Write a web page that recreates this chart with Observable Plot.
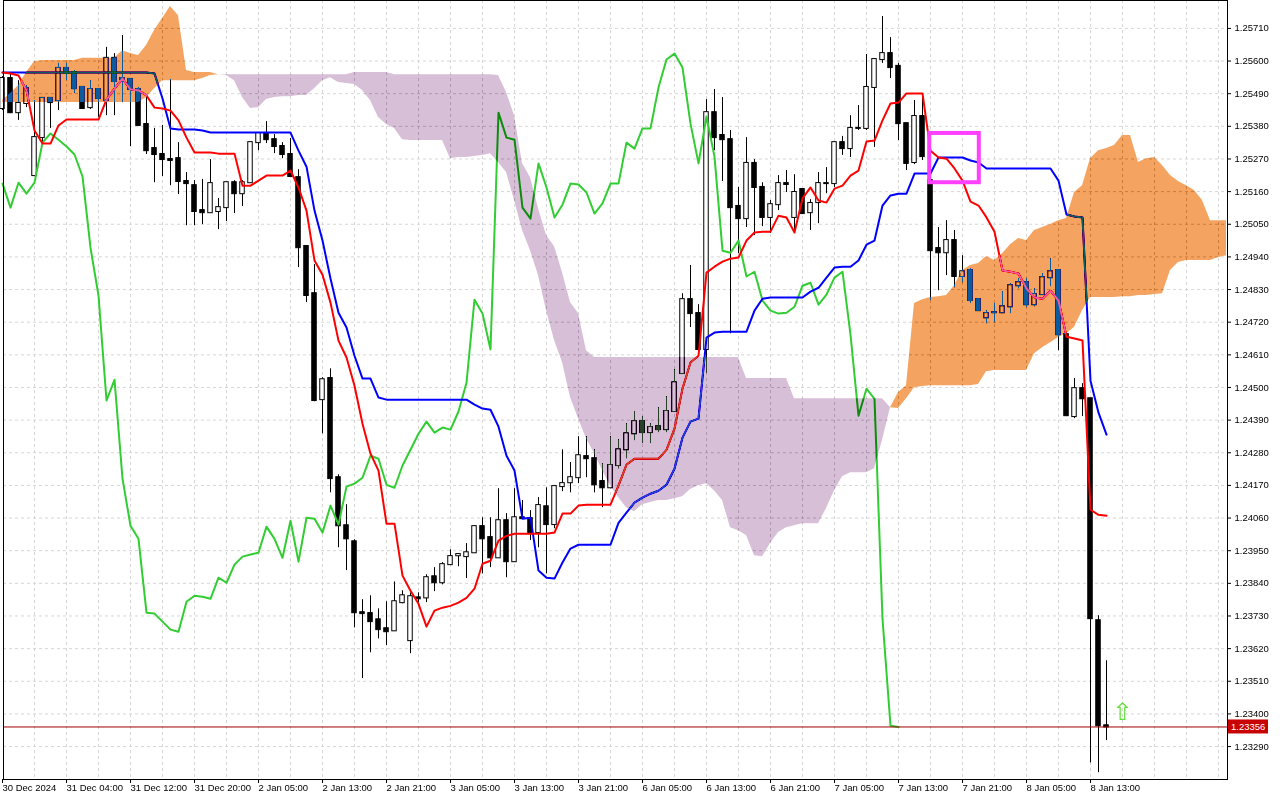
<!DOCTYPE html>
<html><head><meta charset="utf-8">
<script src="https://cdn.jsdelivr.net/npm/d3@7"></script>
<script src="https://cdn.jsdelivr.net/npm/@observablehq/plot@0.6"></script>
<style>
html,body{margin:0;padding:0;background:#fff;}
#chart{width:1280px;height:800px;}
</style></head><body><div id="chart"></div>
<script>
const timeLabels = ["30 Dec 2024","31 Dec 04:00","31 Dec 12:00","31 Dec 20:00","2 Jan 05:00","2 Jan 13:00","2 Jan 21:00","3 Jan 05:00","3 Jan 13:00","3 Jan 21:00","6 Jan 05:00","6 Jan 13:00","6 Jan 21:00","7 Jan 05:00","7 Jan 13:00","7 Jan 21:00","8 Jan 05:00","8 Jan 13:00"];
const yTicks = [1.23290,1.23400,1.23510,1.23620,1.23730,1.23840,1.23950,1.24060,1.24170,1.24280,1.24390,1.24500,1.24610,1.24720,1.24830,1.24940,1.25050,1.25160,1.25270,1.25380,1.25490,1.25600,1.25710];

const open = [1.25440,1.25541,1.25426,1.25457,1.25214,1.25342,1.25474,1.25467,1.25575,1.25561,
1.25511,1.25443,1.25504,1.25467,1.25609,1.25541,1.25538,1.25504,1.25386,1.25305,
1.25285,1.25268,1.25271,1.25194,1.25180,1.25096,1.25089,1.25093,1.25106,1.25190,
1.25153,1.25190,1.25325,1.25356,1.25335,1.25312,1.25285,1.25207,1.24975,1.24816,
1.24459,1.24530,1.24196,1.24034,1.23980,1.23741,1.23738,1.23717,1.23687,1.23680,
1.23775,1.23647,1.23791,1.23791,1.23862,1.23842,1.23903,1.23933,1.23930,1.23943,
1.24031,1.23994,1.23926,1.24051,1.23913,1.24061,1.24058,1.24011,1.24098,1.24038,
1.24166,1.24179,1.24196,1.24267,1.24260,1.24183,1.24162,1.24237,1.24290,1.24344,
1.24385,1.24348,1.24368,1.24358,1.24419,1.24547,1.24796,1.24749,1.24628,1.25426,
1.25349,1.25335,1.25110,1.25069,1.25255,1.25174,1.25073,1.25116,1.25187,1.25073,
1.25167,1.25089,1.25123,1.25187,1.25187,1.25325,1.25305,1.25373,1.25373,1.25511,
1.25605,1.25625,1.25582,1.25389,1.25258,1.25413,1.25197,1.24968,1.24954,1.24995,
1.24874,1.24894,1.24796,1.24735,1.24752,1.24752,1.24772,1.24843,1.24853,1.24779,
1.24813,1.24870,1.24894,1.24678,1.24402,1.24496,1.24462,1.23714,1.23360];
const high = [1.25548,1.25555,1.25534,1.25517,1.25467,1.25477,1.25477,1.25592,1.25592,1.25568,
1.25514,1.25534,1.25504,1.25646,1.25625,1.25686,1.25538,1.25511,1.25487,1.25373,
1.25383,1.25538,1.25325,1.25224,1.25197,1.25201,1.25268,1.25137,1.25190,1.25197,
1.25197,1.25325,1.25359,1.25396,1.25352,1.25325,1.25339,1.25234,1.24975,1.24914,
1.24533,1.24563,1.24206,1.24105,1.23987,1.23785,1.23798,1.23754,1.23778,1.23845,
1.23815,1.23808,1.23808,1.23869,1.23893,1.23910,1.23953,1.23937,1.23974,1.24034,
1.24061,1.24061,1.24159,1.24075,1.24159,1.24119,1.24085,1.24129,1.24162,1.24169,
1.24290,1.24247,1.24334,1.24334,1.24290,1.24243,1.24334,1.24324,1.24378,1.24419,
1.24402,1.24378,1.24432,1.24469,1.24560,1.24816,1.24911,1.24779,1.25470,1.25504,
1.25477,1.25366,1.25174,1.25342,1.25268,1.25190,1.25130,1.25214,1.25231,1.25217,
1.25170,1.25133,1.25224,1.25241,1.25325,1.25346,1.25416,1.25450,1.25622,1.25605,
1.25750,1.25679,1.25592,1.25389,1.25467,1.25474,1.25197,1.25039,1.25062,1.25029,
1.24944,1.24901,1.24799,1.24759,1.24783,1.24823,1.24850,1.24867,1.24867,1.24833,
1.24884,1.24934,1.24894,1.24678,1.24530,1.24513,1.24462,1.23731,1.23579];
const low = [1.25433,1.25423,1.25400,1.25443,1.25214,1.25322,1.25373,1.25433,1.25534,1.25491,
1.25440,1.25437,1.25410,1.25416,1.25416,1.25460,1.25312,1.25383,1.25285,1.25190,
1.25211,1.25180,1.25150,1.25045,1.25045,1.25049,1.25089,1.25032,1.25059,1.25086,
1.25110,1.25190,1.25298,1.25322,1.25288,1.25271,1.25207,1.24904,1.24786,1.24452,
1.24344,1.24145,1.23960,1.23883,1.23690,1.23519,1.23606,1.23653,1.23630,1.23680,
1.23771,1.23603,1.23775,1.23775,1.23812,1.23835,1.23903,1.23896,1.23856,1.23943,
1.23872,1.23893,1.23926,1.23859,1.23913,1.24058,1.23984,1.23960,1.23872,1.24024,
1.24149,1.24145,1.24176,1.24196,1.24145,1.24095,1.24159,1.24226,1.24260,1.24321,
1.24311,1.24311,1.24348,1.24348,1.24419,1.24547,1.24702,1.24628,1.24547,1.25298,
1.25194,1.24681,1.24951,1.25039,1.25012,1.25042,1.25019,1.25096,1.25157,1.25022,
1.25086,1.25029,1.25052,1.25153,1.25174,1.25282,1.25275,1.25366,1.25366,1.25309,
1.25592,1.25541,1.25332,1.25231,1.25251,1.25265,1.24793,1.24826,1.24877,1.24836,
1.24853,1.24783,1.24756,1.24715,1.24718,1.24749,1.24749,1.24833,1.24769,1.24772,
1.24810,1.24840,1.24624,1.24402,1.24395,1.24402,1.23235,1.23202,1.23310];
const close = [1.25541,1.25426,1.25457,1.25507,1.25342,1.25474,1.25460,1.25575,1.25558,1.25507,
1.25440,1.25504,1.25474,1.25609,1.25531,1.25538,1.25504,1.25383,1.25298,1.25285,
1.25268,1.25265,1.25194,1.25187,1.25093,1.25089,1.25187,1.25106,1.25190,1.25153,
1.25190,1.25325,1.25356,1.25335,1.25312,1.25285,1.25211,1.24971,1.24810,1.24456,
1.24526,1.24193,1.24034,1.23990,1.23741,1.23738,1.23711,1.23684,1.23677,1.23778,
1.23798,1.23795,1.23788,1.23859,1.23842,1.23903,1.23930,1.23937,1.23943,1.24031,
1.23990,1.23926,1.24051,1.23913,1.24061,1.24058,1.24011,1.24102,1.24038,1.24166,
1.24176,1.24196,1.24270,1.24260,1.24172,1.24162,1.24237,1.24290,1.24344,1.24385,
1.24348,1.24365,1.24358,1.24419,1.24516,1.24796,1.24749,1.24628,1.25426,1.25342,
1.25335,1.25106,1.25069,1.25255,1.25174,1.25073,1.25116,1.25187,1.25184,1.25157,
1.25086,1.25120,1.25187,1.25187,1.25325,1.25305,1.25373,1.25373,1.25511,1.25605,
1.25625,1.25578,1.25389,1.25255,1.25413,1.25278,1.24961,1.24954,1.24995,1.24874,
1.24890,1.24793,1.24759,1.24749,1.24752,1.24772,1.24843,1.24853,1.24779,1.24813,
1.24870,1.24890,1.24678,1.24405,1.24496,1.24462,1.23721,1.23360,1.23356];

const tenkan = [1.25561,1.25558,1.25551,1.25501,1.25366,1.25322,1.25322,1.25383,1.25403,1.25403,
1.25403,1.25403,1.25403,1.25470,1.25507,1.25541,1.25504,1.25501,1.25484,1.25443,
1.25440,1.25433,1.25400,1.25342,1.25292,1.25292,1.25292,1.25288,1.25288,1.25288,
1.25180,1.25180,1.25197,1.25214,1.25214,1.25214,1.25231,1.25174,1.25096,1.24928,
1.24880,1.24786,1.24658,1.24601,1.24506,1.24378,1.24277,1.24220,1.24041,1.24041,
1.23866,1.23815,1.23771,1.23694,1.23748,1.23758,1.23764,1.23775,1.23791,1.23822,
1.23906,1.23916,1.23984,1.24000,1.24007,1.24007,1.24007,1.24007,1.24007,1.24011,
1.24075,1.24075,1.24102,1.24105,1.24105,1.24105,1.24105,1.24169,1.24240,1.24260,
1.24260,1.24260,1.24260,1.24290,1.24361,1.24496,1.24584,1.24607,1.24887,1.24907,
1.24924,1.24934,1.24938,1.24995,1.25022,1.25025,1.25025,1.25079,1.25073,1.25022,
1.25137,1.25174,1.25130,1.25123,1.25170,1.25180,1.25214,1.25231,1.25329,1.25332,
1.25400,1.25457,1.25460,1.25491,1.25491,1.25491,1.25298,1.25275,1.25271,1.25238,
1.25197,1.25126,1.25113,1.25073,1.25025,1.24894,1.24890,1.24884,1.24833,1.24803,
1.24799,1.24826,1.24793,1.24671,1.24665,1.24658,1.24088,1.24071,1.24068];

const kijun = [1.25561,1.25561,1.25561,1.25561,1.25561,1.25561,1.25561,1.25561,1.25561,1.25561,
1.25561,1.25561,1.25561,1.25561,1.25561,1.25561,1.25561,1.25561,1.25561,1.25558,
1.25474,1.25373,1.25369,1.25369,1.25369,1.25366,1.25359,1.25359,1.25359,1.25359,
1.25359,1.25359,1.25359,1.25359,1.25359,1.25359,1.25359,1.25298,1.25244,1.25096,
1.24995,1.24867,1.24752,1.24702,1.24607,1.24530,1.24530,1.24466,1.24459,1.24459,
1.24459,1.24459,1.24459,1.24459,1.24459,1.24459,1.24459,1.24459,1.24459,1.24442,
1.24429,1.24425,1.24368,1.24270,1.24220,1.24058,1.24061,1.23883,1.23859,1.23856,
1.23910,1.23957,1.23970,1.23970,1.23970,1.23970,1.23970,1.24044,1.24078,1.24112,
1.24129,1.24142,1.24152,1.24172,1.24226,1.24331,1.24385,1.24395,1.24668,1.24685,
1.24688,1.24688,1.24688,1.24688,1.24759,1.24799,1.24803,1.24803,1.24803,1.24803,
1.24803,1.24823,1.24836,1.24870,1.24904,1.24907,1.24907,1.24928,1.24981,1.24995,
1.25113,1.25147,1.25153,1.25153,1.25221,1.25221,1.25221,1.25275,1.25275,1.25275,
1.25275,1.25265,1.25258,1.25238,1.25238,1.25238,1.25238,1.25238,1.25238,1.25238,
1.25238,1.25238,1.25197,1.25083,1.25076,1.25073,1.24523,1.24415,1.24341];

const spanA = [1.25467,1.25491,1.25517,1.25561,1.25598,1.25602,1.25602,1.25602,1.25602,1.25602,
1.25609,1.25609,1.25609,1.25609,1.25609,1.25635,1.25625,1.25619,1.25652,1.25703,
1.25743,1.25784,1.25753,1.25568,1.25561,1.25561,1.25561,1.25554,1.25551,1.25534,
1.25477,1.25440,1.25443,1.25470,1.25477,1.25480,1.25480,1.25484,1.25484,1.25507,
1.25534,1.25544,1.25528,1.25524,1.25521,1.25501,1.25467,1.25410,1.25386,1.25373,
1.25335,1.25332,1.25332,1.25332,1.25332,1.25332,1.25271,1.25275,1.25275,1.25278,
1.25282,1.25288,1.25258,1.25224,1.25130,1.25029,1.24961,1.24877,1.24759,1.24658,
1.24584,1.24466,1.24395,1.24327,1.24277,1.24220,1.24169,1.24129,1.24095,1.24081,
1.24105,1.24112,1.24119,1.24119,1.24125,1.24132,1.24156,1.24169,1.24176,1.24152,
1.24119,1.24027,1.24017,1.24001,1.23933,1.23930,1.23974,1.24011,1.24027,1.24034,
1.24041,1.24041,1.24041,1.24092,1.24152,1.24199,1.24213,1.24213,1.24213,1.24226,
1.24321,1.24432,1.24483,1.24506,1.24783,1.24796,1.24803,1.24806,1.24810,1.24843,
1.24894,1.24911,1.24918,1.24941,1.24928,1.24951,1.24981,1.25002,1.24995,1.25029,
1.25039,1.25049,1.25062,1.25069,1.25157,1.25180,1.25271,1.25298,1.25305,1.25315,
1.25349,1.25349,1.25258,1.25271,1.25275,1.25248,1.25214,1.25194,1.25180,1.25164,
1.25130,1.25062,1.25062,1.25062];
const spanB = [1.25460,1.25460,1.25460,1.25460,1.25460,1.25460,1.25460,1.25460,1.25460,1.25460,
1.25460,1.25460,1.25460,1.25460,1.25460,1.25460,1.25460,1.25460,1.25477,1.25507,
1.25534,1.25534,1.25534,1.25534,1.25534,1.25541,1.25551,1.25554,1.25554,1.25554,
1.25554,1.25554,1.25554,1.25554,1.25554,1.25554,1.25554,1.25554,1.25554,1.25554,
1.25554,1.25554,1.25554,1.25554,1.25561,1.25561,1.25561,1.25561,1.25561,1.25554,
1.25554,1.25554,1.25554,1.25554,1.25554,1.25554,1.25554,1.25554,1.25554,1.25554,
1.25554,1.25554,1.25551,1.25494,1.25416,1.25255,1.25207,1.25103,1.25012,1.24975,
1.24887,1.24786,1.24749,1.24624,1.24601,1.24601,1.24601,1.24601,1.24601,1.24601,
1.24601,1.24601,1.24601,1.24601,1.24601,1.24601,1.24601,1.24601,1.24601,1.24601,
1.24601,1.24601,1.24601,1.24530,1.24530,1.24530,1.24530,1.24530,1.24530,1.24462,
1.24462,1.24462,1.24462,1.24462,1.24462,1.24462,1.24462,1.24462,1.24462,1.24462,
1.24462,1.24432,1.24429,1.24462,1.24499,1.24503,1.24506,1.24506,1.24506,1.24506,
1.24506,1.24506,1.24510,1.24553,1.24557,1.24557,1.24557,1.24557,1.24557,1.24614,
1.24634,1.24651,1.24668,1.24681,1.24702,1.24759,1.24803,1.24803,1.24803,1.24803,
1.24806,1.24806,1.24810,1.24810,1.24813,1.24816,1.24894,1.24921,1.24928,1.24928,
1.24928,1.24928,1.24938,1.24944];

const lastPrice = 1.23356;
const markBox = [{i1: 115.9, i2: 122.1, p1: 1.25190, p2: 1.25356}];
const arrowMark = [{i: 140, p: 1.23404}];
const chikouShift = 26;

const candles = open.map((o, i) => ({i, o, h: high[i], l: low[i], c: close[i]}));
const cloud = spanA.map((a, i) => ({i, a, b: spanB[i]}));
const chikou = close.map((c, i) => ({i: i - chikouShift, c})).filter(d => d.i >= 0);
const tenkanD = tenkan.map((v, i) => ({i, v}));
const kijunD = kijun.map((v, i) => ({i, v}));
const labelIdx = timeLabels.map((_, j) => j * 8);
const fmt = d3.format(".5f");
const FONT = "Liberation Sans, Arial, sans-serif";
const GRID = "#d6d6d6";

const chart = Plot.plot({
  width: 1280, height: 800,
  marginLeft: 3, marginRight: 53, marginTop: 0, marginBottom: 21,
  x: {type: "linear", domain: [0.125, 153.125]},
  y: {domain: [1.23179, 1.25804]},
  style: {background: "white", fontFamily: FONT, fontSize: "9.5px", color: "black"},
  marks: [
    Plot.frame({fill: "white"}),
    Plot.gridX(d3.range(4, 154, 4), {stroke: GRID, strokeOpacity: 1, strokeDasharray: "3,3"}),
    Plot.gridY(yTicks, {stroke: GRID, strokeOpacity: 1, strokeDasharray: "3,3"}),
    Plot.ruleX(candles, {x: "i", y1: "l", y2: "h", stroke: "black", strokeWidth: 1}),
    Plot.rect(candles, {x1: d => d.i - 0.28, x2: d => d.i + 0.28, y1: "o", y2: "c",
      fill: d => d.c >= d.o ? "white" : "black", stroke: "black", strokeWidth: 1, insetTop: -0.5, insetBottom: -0.5}),
    Plot.line(chikou, {x: "i", y: "c", stroke: "#32cd32", strokeWidth: 2}),
    Plot.line(kijunD, {x: "i", y: "v", stroke: "#0000ff", strokeWidth: 2}),
    Plot.line(tenkanD, {x: "i", y: "v", stroke: "#ff0000", strokeWidth: 2}),
    Plot.ruleY([lastPrice], {stroke: "#a00000", strokeWidth: 1}),
    Plot.areaY(cloud, {x: "i", y1: "b", y2: d => Math.max(d.a, d.b), fill: "#0b5b9f", mixBlendMode: "difference"}),
    Plot.areaY(cloud, {x: "i", y1: "a", y2: d => Math.max(d.a, d.b), fill: "#274027", mixBlendMode: "difference"}),
    Plot.rect(markBox, {x1: "i1", x2: "i2", y1: "p1", y2: "p2", fill: "none", stroke: "#ff40ff", strokeWidth: 4}),
    Plot.text(arrowMark, {x: "i", y: "p", text: () => "\u21E7", fill: "#5ee03a", fontSize: 24, fontFamily: "DejaVu Sans"}),
    Plot.frame({stroke: "black"}),
    Plot.axisX(labelIdx, {anchor: "bottom", tickFormat: d => timeLabels[d / 8], textAnchor: "start", tickSize: 4, tickPadding: 1, label: null, fontSize: 9.5}),
    Plot.axisY(yTicks, {anchor: "right", tickFormat: fmt, tickSize: 3, tickPadding: 4, label: null, fontSize: 9.5})
  ]
});

const ys = chart.scale("y");
const xs = chart.scale("x");
const yPix = ys.apply(lastPrice);
const xRight = xs.range[1];
const svg = d3.select(chart);
svg.append("rect").attr("x", xRight + 1).attr("y", yPix - 7).attr("width", 40).attr("height", 14).attr("fill", "#c80000");
svg.append("text").attr("x", xRight + 4).attr("y", yPix).attr("dy", "0.35em").attr("fill", "white")
  .attr("text-anchor", "start")
  .attr("font-family", FONT).attr("font-size", "9.5px").text(fmt(lastPrice));
document.getElementById("chart").appendChild(chart);
</script>
</body></html>
